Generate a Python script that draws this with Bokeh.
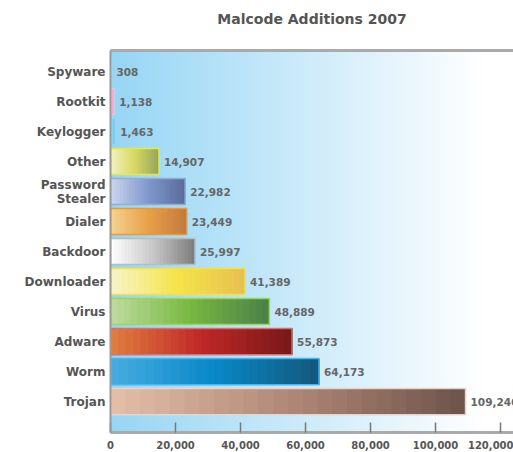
import numpy as np
from bokeh.plotting import figure
from bokeh.models import (Range1d, FixedTicker, NumeralTickFormatter, LinearAxis,
                          ColumnDataSource)
from bokeh.embed import file_html
from bokeh.resources import INLINE

# Malcode additions by category, top to bottom as listed
categories = ["Spyware", "Rootkit", "Keylogger", "Other", "Password\nStealer", "Dialer",
              "Backdoor", "Downloader", "Virus", "Adware", "Worm", "Trojan"]
additions = [308, 1138, 1463, 14907, 22982, 23449, 25997, 41389, 48889, 55873, 64173, 109246]
x_ticks = [0, 20000, 40000, 60000, 80000, 100000, 120000]
chart_title = "Malcode Additions 2007"

# bar shading: light -> mid -> dark, plus a thin rim colour
shades = [
    ("#d0e8f8", "#a0c8e8", "#80b0d8", "#b0d8f0"),
    ("#f8d4e4", "#f2b4cf", "#e898b8", "#f4c0d8"),
    ("#b0e4f8", "#84d2f0", "#60c0e8", "#90d8f4"),
    ("#f2f2c4", "#d8d860", "#94a45a", "#e8e840"),
    ("#ccd6ee", "#8098cc", "#586c98", "#94acdc"),
    ("#f4d494", "#e8a048", "#c47840", "#f09828"),
    ("#ffffff", "#c8c8c8", "#7c7c7c", "#b4bcc4"),
    ("#f8f4cc", "#f4e448", "#e8c050", "#f8e040"),
    ("#c0dca0", "#78b840", "#4a8048", "#98d858"),
    ("#e08040", "#c02828", "#781818", "#d87070"),
    ("#48ace0", "#0888c8", "#14587c", "#48b4f0"),
    ("#e4c0a8", "#b08878", "#6c5448", "#e8d4cc"),
]

n = len(categories)
ypos = [n - 1 - i for i in range(n)]
x_end = 124000
y_start, y_end = -1.03, n - 1 + 0.7
bar_h = 0.87


def hex_rgb(h):
    h = h.lstrip("#")
    return np.array([int(h[i:i + 2], 16) for i in (0, 2, 4)], dtype=float)


def blend(stops, t):
    a, b, c = (hex_rgb(s) for s in stops)
    rgb = a + (b - a) * (t / 0.5) if t < 0.5 else b + (c - b) * ((t - 0.5) / 0.5)
    return "#%02x%02x%02x" % tuple(int(round(v)) for v in rgb)


p = figure(width=513, height=452,
           x_range=Range1d(0, x_end), y_range=Range1d(y_start, y_end),
           output_backend="svg", toolbar_location=None,
           min_border_left=110, min_border_right=0, min_border_top=50, min_border_bottom=20)
p.background_fill_color = "white"
p.border_fill_color = "white"
p.outline_line_color = None
p.grid.visible = False

# soft blue wash behind the bars, fading to white on the right
w = 400
row = np.zeros((1, w), dtype=np.uint32)
view = row.view(dtype=np.uint8).reshape((1, w, 4))
left_c = np.array([150, 214, 245], dtype=float)
for k in range(w):
    t = min(1.0, (k / (w - 1)) / 0.92)
    c = left_c + (255 - left_c) * t
    view[0, k, :3] = c.astype(np.uint8)
    view[0, k, 3] = 255
p.image_rgba(image=[row], x=0, y=y_start, dw=x_end, dh=y_end - y_start)

# gradient bars: each slice runs from its start to the bar's end, so the
# later (darker) slices paint over the earlier ones without seams
pieces = 24
sl, sr, sy, sc = [], [], [], []
for v, y, st in zip(additions, ypos, shades):
    for k in range(pieces):
        sl.append(v * k / pieces)
        sr.append(v)
        sy.append(y)
        sc.append(blend(st[:3], (k + 0.5) / pieces))
p.hbar(y=sy, left=sl, right=sr, height=bar_h, fill_color=sc, line_color=None)
p.hbar(y=ypos, left=0, right=additions, height=bar_h, fill_color=None,
       line_color=[s[3] for s in shades], line_width=1.5)

# value labels
src = ColumnDataSource(dict(x=additions, y=ypos, t=[f"{v:,}" for v in additions]))
p.text(x="x", y="y", text="t", source=src, x_offset=5, text_baseline="middle",
       text_align="left", text_font_size="10.5px", text_font_style="bold",
       text_color="#666666", text_font={"value": "DejaVu Sans"})

# x axis
xa = p.xaxis[0]
xa.ticker = FixedTicker(ticks=x_ticks)
xa.formatter = NumeralTickFormatter(format="0,0")
xa.major_tick_in = 10
xa.major_tick_out = 0
xa.minor_tick_line_color = None
xa.major_tick_line_color = "#777777"
xa.major_tick_line_width = 1.5
xa.axis_line_color = "#aaaaaa"
xa.axis_line_width = 3
xa.major_label_standoff = 8
xa.major_label_text_font = "DejaVu Sans"
xa.major_label_text_font_style = "bold"
xa.major_label_text_font_size = "10px"
xa.major_label_text_color = "#555555"

# y axis with category names
ya = p.yaxis[0]
ya.ticker = FixedTicker(ticks=ypos)
ya.major_label_overrides = {y: c for y, c in zip(ypos, categories)}
ya.major_tick_in = 0
ya.major_tick_out = 0
ya.minor_tick_line_color = None
ya.axis_line_color = "#999999"
ya.axis_line_width = 2
ya.major_label_standoff = 5
ya.major_label_text_font = "DejaVu Sans"
ya.major_label_text_font_style = "bold"
ya.major_label_text_font_size = "12px"
ya.major_label_text_color = "#555555"
ya.major_label_text_line_height = 1.0

# top rule; its hidden tick reserves the gap between the rule and the heading
top = LinearAxis(ticker=FixedTicker(ticks=[0]), major_label_overrides={0: ""},
                 axis_line_color="#aaaaaa", axis_line_width=3,
                 major_tick_in=0, major_tick_out=19, major_tick_line_color=None,
                 minor_tick_line_color=None, major_label_standoff=0,
                 major_label_text_font_size="1px")
p.add_layout(top, "above")

p.title.text = chart_title
p.title.align = "center"
p.title.text_font = "DejaVu Sans"
p.title.text_font_style = "bold"
p.title.text_font_size = "14px"
p.title.text_color = "#555555"

open("out.html", "w").write(file_html(p, INLINE))
